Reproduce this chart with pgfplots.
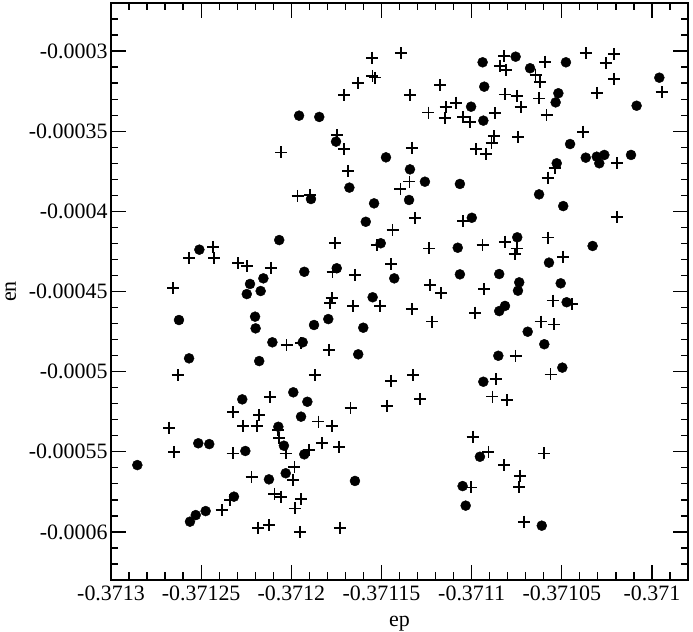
\documentclass[border=0pt]{standalone}
\usepackage{fontspec}
\setmainfont{Liberation Serif}
\usepackage{pgfplots}
\pgfplotsset{compat=1.18}
\begin{document}
\begin{tikzpicture}
\begin{axis}[
  scale only axis, width=577bp, height=577bp,
  xmin=-0.3713, xmax=-0.37098,
  ymin=-0.00063, ymax=-0.00027,
  xtick={-0.3713,-0.37125,-0.3712,-0.37115,-0.3711,-0.37105,-0.371},
  xticklabels={-0.3713,-0.37125,-0.3712,-0.37115,-0.3711,-0.37105,-0.371},
  ytick={-0.0006,-0.00055,-0.0005,-0.00045,-0.0004,-0.00035,-0.0003},
  yticklabels={-0.0006,-0.00055,-0.0005,-0.00045,-0.0004,-0.00035,-0.0003},
  minor xtick={-0.37129,-0.37128,-0.37127,-0.37126,-0.37124,-0.37123,-0.37122,-0.37121,-0.37119,-0.37118,-0.37117,-0.37116,-0.37114,-0.37113,-0.37112,-0.37111,-0.37109,-0.37108,-0.37107,-0.37106,-0.37104,-0.37103,-0.37102,-0.37101,-0.37099},
  minor ytick={-0.00062,-0.00061,-0.00059,-0.00058,-0.00057,-0.00056,-0.00054,-0.00053,-0.00052,-0.00051,-0.00049,-0.00048,-0.00047,-0.00046,-0.00044,-0.00043,-0.00042,-0.00041,-0.00039,-0.00038,-0.00037,-0.00036,-0.00034,-0.00033,-0.00032,-0.00031,-0.00029,-0.00028},
  tick align=inside,
  major tick length=15bp, minor tick length=7.5bp,
  every tick/.style={black, line width=1.3bp},
  axis line style={line width=1.5bp},
  scaled ticks=false,
  /pgf/number format/assume math mode=true,
  ticklabel style={font=\fontsize{22}{26}\selectfont},
  xticklabel style={yshift=-2bp},
  label style={font=\fontsize{22}{26}\selectfont},
  xlabel={ep}, ylabel={en},
  xlabel style={at={(axis description cs:0.5,0)}, anchor=base, yshift=-46bp},
  ylabel style={at={(axis description cs:0,0.5)}, anchor=base, yshift=95bp},
]
\addplot[only marks, mark=*, mark size=5bp, black] coordinates {
(-0.3711957,-0.0003403) (-0.3711845,-0.0003411) (-0.3711752,-0.0003565) (-0.3711475,-0.0003663)
(-0.3711342,-0.0003738) (-0.3711678,-0.0003852) (-0.3711891,-0.0003923) (-0.3711541,-0.0003950)
(-0.3711347,-0.0003929) (-0.3711587,-0.0004065) (-0.3712067,-0.0004179) (-0.3711504,-0.0004199)
(-0.3712510,-0.0004239) (-0.3711748,-0.0004355) (-0.3711928,-0.0004377) (-0.3711429,-0.0004418)
(-0.3712155,-0.0004418) (-0.3712229,-0.0004453) (-0.3712170,-0.0004497) (-0.3712247,-0.0004516)
(-0.3711549,-0.0004536) (-0.3710939,-0.0003070) (-0.3710756,-0.0003035) (-0.3710676,-0.0003107)
(-0.3710477,-0.0003070) (-0.3709959,-0.0003166) (-0.3710930,-0.0003222) (-0.3710519,-0.0003263)
(-0.3710534,-0.0003320) (-0.3710085,-0.0003341) (-0.3711003,-0.0003347) (-0.3710935,-0.0003434)
(-0.3710454,-0.0003580) (-0.3710367,-0.0003665) (-0.3710306,-0.0003659) (-0.3710264,-0.0003648)
(-0.3710292,-0.0003700) (-0.3710116,-0.0003648) (-0.3710528,-0.0003700) (-0.3711259,-0.0003815)
(-0.3711065,-0.0003829) (-0.3710626,-0.0003894) (-0.3710492,-0.0003967) (-0.3710999,-0.0004040)
(-0.3710747,-0.0004162) (-0.3711077,-0.0004227) (-0.3710329,-0.0004216) (-0.3710571,-0.0004320)
(-0.3711065,-0.0004393) (-0.3710847,-0.0004391) (-0.3710736,-0.0004443) (-0.3710743,-0.0004495)
(-0.3710506,-0.0004449) (-0.3710473,-0.0004567) (-0.3712623,-0.0004678) (-0.3712567,-0.0004917)
(-0.3712201,-0.0004657) (-0.3712198,-0.0004730) (-0.3711874,-0.0004709) (-0.3711795,-0.0004672)
(-0.3711601,-0.0004726) (-0.3712105,-0.0004817) (-0.3711937,-0.0004817) (-0.3711629,-0.0004892)
(-0.3712178,-0.0004934) (-0.3712272,-0.0005173) (-0.3711989,-0.0005129) (-0.3711911,-0.0005188)
(-0.3711946,-0.0005281) (-0.3712072,-0.0005344) (-0.3712041,-0.0005462) (-0.3712516,-0.0005447)
(-0.3712455,-0.0005452) (-0.3712255,-0.0005495) (-0.3711928,-0.0005516) (-0.3712854,-0.0005583)
(-0.3712031,-0.0005634) (-0.3712124,-0.0005672) (-0.3711647,-0.0005682) (-0.3712318,-0.0005780)
(-0.3712475,-0.0005870) (-0.3712530,-0.0005895) (-0.3712562,-0.0005936) (-0.3710815,-0.0004590)
(-0.3710847,-0.0004622) (-0.3710689,-0.0004751) (-0.3710597,-0.0004829) (-0.3710852,-0.0004901)
(-0.3710497,-0.0004975) (-0.3710935,-0.0005063) (-0.3710954,-0.0005531) (-0.3711050,-0.0005714)
(-0.3711033,-0.0005836) (-0.3710611,-0.0005961)
};
\addplot[only marks, mark=+, mark size=6bp, black, line width=1.7bp] coordinates {
(-0.3711551,-0.0003041) (-0.3711393,-0.0003014) (-0.3711550,-0.0003155) (-0.3711536,-0.0003165)
(-0.3711632,-0.0003197) (-0.3711706,-0.0003274) (-0.3711748,-0.0003524) (-0.3711706,-0.0003613)
(-0.3712057,-0.0003632) (-0.3711684,-0.0003748) (-0.3711965,-0.0003904) (-0.3711896,-0.0003898)
(-0.3711395,-0.0003862) (-0.3711345,-0.0003814) (-0.3711332,-0.0003603) (-0.3711438,-0.0004116)
(-0.3711314,-0.0004043) (-0.3711758,-0.0004199) (-0.3711526,-0.0004210) (-0.3712433,-0.0004221)
(-0.3712567,-0.0004293) (-0.3712427,-0.0004293) (-0.3712294,-0.0004324) (-0.3712247,-0.0004341)
(-0.3712113,-0.0004352) (-0.3711447,-0.0004330) (-0.3711771,-0.0004377) (-0.3711647,-0.0004397)
(-0.3712655,-0.0004480) (-0.3711776,-0.0004542) (-0.3711785,-0.0004570) (-0.3710820,-0.0003031)
(-0.3710843,-0.0003093) (-0.3710809,-0.0003118) (-0.3710593,-0.0003066) (-0.3710366,-0.0003014)
(-0.3710209,-0.0003020) (-0.3710256,-0.0003076) (-0.3710209,-0.0003174) (-0.3710645,-0.0003149)
(-0.3710621,-0.0003191) (-0.3711175,-0.0003212) (-0.3711342,-0.0003274) (-0.3710815,-0.0003270)
(-0.3710750,-0.0003280) (-0.3710625,-0.0003295) (-0.3710306,-0.0003260) (-0.3709946,-0.0003257)
(-0.3711088,-0.0003322) (-0.3711144,-0.0003351) (-0.3711240,-0.0003384) (-0.3711148,-0.0003419)
(-0.3711046,-0.0003413) (-0.3711009,-0.0003441) (-0.3710870,-0.0003388) (-0.3710728,-0.0003347)
(-0.3710584,-0.0003399) (-0.3710381,-0.0003503) (-0.3710876,-0.0003530) (-0.3710889,-0.0003575)
(-0.3710741,-0.0003538) (-0.3710976,-0.0003611) (-0.3710920,-0.0003642) (-0.3710538,-0.0003731)
(-0.3710578,-0.0003790) (-0.3710195,-0.0003700) (-0.3711046,-0.0004060) (-0.3710195,-0.0004037)
(-0.3711235,-0.0004231) (-0.3710939,-0.0004210) (-0.3710815,-0.0004189) (-0.3710750,-0.0004231)
(-0.3710760,-0.0004268) (-0.3710578,-0.0004164) (-0.3710492,-0.0004283) (-0.3711231,-0.0004460)
(-0.3711170,-0.0004511) (-0.3710931,-0.0004486) (-0.3710550,-0.0004557) (-0.3711656,-0.0004590)
(-0.3711508,-0.0004590) (-0.3712026,-0.0004834) (-0.3711946,-0.0004823) (-0.3711791,-0.0004865)
(-0.3712630,-0.0005021) (-0.3711869,-0.0005021) (-0.3711447,-0.0005057) (-0.3712118,-0.0005160)
(-0.3712322,-0.0005252) (-0.3712178,-0.0005271) (-0.3711671,-0.0005229) (-0.3711471,-0.0005213)
(-0.3712677,-0.0005350) (-0.3712266,-0.0005339) (-0.3712192,-0.0005339) (-0.3711850,-0.0005312)
(-0.3711776,-0.0005339) (-0.3712072,-0.0005364) (-0.3712068,-0.0005416) (-0.3711831,-0.0005447)
(-0.3711734,-0.0005472) (-0.3711900,-0.0005489) (-0.3712649,-0.0005500) (-0.3712325,-0.0005510)
(-0.3712031,-0.0005510) (-0.3711983,-0.0005597) (-0.3712220,-0.0005656) (-0.3711992,-0.0005676)
(-0.3712094,-0.0005763) (-0.3712059,-0.0005780) (-0.3711946,-0.0005795) (-0.3712340,-0.0005801)
(-0.3712386,-0.0005863) (-0.3711980,-0.0005853) (-0.3712183,-0.0005974) (-0.3712122,-0.0005957)
(-0.3711952,-0.0005999) (-0.3711730,-0.0005974) (-0.3711332,-0.0004611) (-0.3711218,-0.0004688)
(-0.3710981,-0.0004632) (-0.3710442,-0.0004578) (-0.3710617,-0.0004688) (-0.3710543,-0.0004705)
(-0.3710756,-0.0004901) (-0.3711324,-0.0005021) (-0.3711286,-0.0005171) (-0.3710865,-0.0005046)
(-0.3710885,-0.0005156) (-0.3710805,-0.0005177) (-0.3710562,-0.0005017) (-0.3710994,-0.0005406)
(-0.3710907,-0.0005500) (-0.3710599,-0.0005510) (-0.3710820,-0.0005583) (-0.3710732,-0.0005651)
(-0.3710736,-0.0005718) (-0.3711003,-0.0005722) (-0.3710710,-0.0005936)
};
\end{axis}
\pgfresetboundingbox
\path (current axis.south west) ++(-111bp,-52bp) rectangle ++(693bp,632bp);
\end{tikzpicture}
\end{document}
